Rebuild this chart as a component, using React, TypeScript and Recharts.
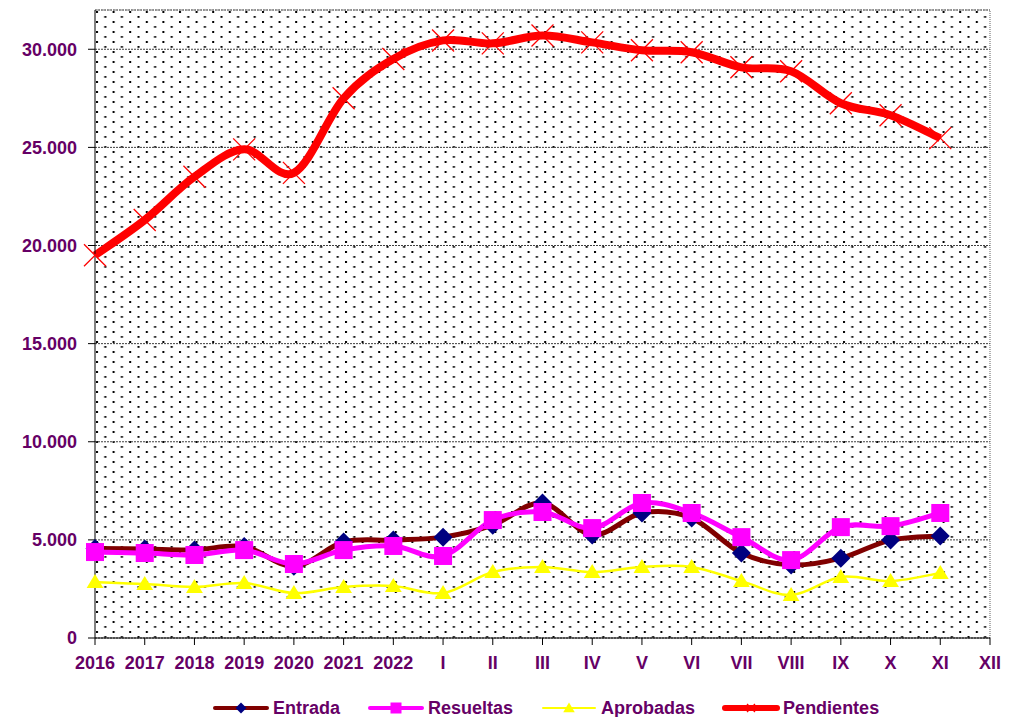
import {
  LineChart,
  Line,
  XAxis,
  YAxis,
  CartesianGrid,
  Legend,
  ReferenceLine,
} from 'recharts';

const categories = ['2016', '2017', '2018', '2019', '2020', '2021', '2022', 'I', 'II', 'III', 'IV', 'V', 'VI', 'VII', 'VIII', 'IX', 'X', 'XI', 'XII'];
const entrada = [4560, 4530, 4490, 4660, 3650, 4890, 4990, 5140, 5750, 6880, 5250, 6370, 6110, 4330, 3720, 4070, 4990, 5200, null];
const resueltas = [4380, 4330, 4230, 4480, 3770, 4480, 4690, 4180, 6010, 6420, 5600, 6880, 6370, 5140, 3970, 5650, 5700, 6370, null];
const aprobadas = [2850, 2750, 2600, 2800, 2290, 2600, 2650, 2290, 3360, 3620, 3360, 3620, 3620, 2900, 2190, 3110, 2900, 3310, null];
const pendientes = [19500, 21300, 23500, 24900, 23700, 27500, 29500, 30450, 30300, 30700, 30350, 29950, 29850, 29080, 28880, 27250, 26640, 25470, null];
const yTicks = [0, 5000, 10000, 15000, 20000, 25000, 30000];

const data = categories.map((c, i) => ({
  name: c,
  entrada: entrada[i],
  resueltas: resueltas[i],
  aprobadas: aprobadas[i],
  pendientes: pendientes[i],
}));

const PURPLE = '#660066';
const FONT = 'Arial, "Liberation Sans", sans-serif';

// suavizado tipo Excel (Catmull-Rom -> bezier)
const excelSmooth = (context: any) => {
  let pts: number[][] = [];
  return {
    areaStart() {},
    areaEnd() {},
    lineStart() {
      pts = [];
    },
    point(x: number, y: number) {
      pts.push([+x, +y]);
    },
    lineEnd() {
      const n = pts.length;
      if (!n) return;
      context.moveTo(pts[0][0], pts[0][1]);
      for (let i = 0; i < n - 1; i++) {
        const p0 = pts[Math.max(0, i - 1)];
        const p1 = pts[i];
        const p2 = pts[i + 1];
        const p3 = pts[Math.min(n - 1, i + 2)];
        context.bezierCurveTo(
          p1[0] + (p2[0] - p0[0]) / 6,
          p1[1] + (p2[1] - p0[1]) / 6,
          p2[0] - (p3[0] - p1[0]) / 6,
          p2[1] - (p3[1] - p1[1]) / 6,
          p2[0],
          p2[1]
        );
      }
    },
  };
};

const formatMiles = (v: number) => String(v).replace(/\B(?=(\d{3})+(?!\d))/g, '.');

const diamond = (cx: number, cy: number, r: number, key?: any) => (
  <path key={key} d={`M${cx},${cy - r}L${cx + r},${cy}L${cx},${cy + r}L${cx - r},${cy}Z`} fill='#000080' />
);
const square = (cx: number, cy: number, r: number, key?: any) => (
  <rect key={key} x={cx - r} y={cy - r} width={r * 2} height={r * 2} fill='#FF00FF' />
);
const triangle = (cx: number, cy: number, r: number, key?: any) => (
  <path key={key} d={`M${cx},${cy - r}L${cx + r * 1.05},${cy + r * 0.75}L${cx - r * 1.05},${cy + r * 0.75}Z`} fill='#FFFF00' />
);
const cross = (cx: number, cy: number, r: number, key?: any) => (
  <path key={key} d={`M${cx - r},${cy - r}L${cx + r},${cy + r}M${cx - r},${cy + r}L${cx + r},${cy - r}`} stroke='#FF0000' strokeWidth={1.3} fill='none' />
);

const makeDot = (shape: typeof diamond, r: number) => (props: any) => {
  const { cx, cy, index } = props;
  if (cx == null || cy == null || props.value == null) return <g key={index} />;
  return shape(cx, cy, r, index);
};

const legendItems = [
  { label: 'Entrada', color: '#800000', width: 4, shape: diamond, r: 5.5 },
  { label: 'Resueltas', color: '#FF00FF', width: 4, shape: square, r: 5.5 },
  { label: 'Aprobadas', color: '#FFFF00', width: 2, shape: triangle, r: 5.5 },
  { label: 'Pendientes', color: '#FF0000', width: 6, shape: cross, r: 4 },
];

const renderLegend = () => (
  <div style={{ display: 'flex', height: 18, alignItems: 'center', fontFamily: FONT }}>
    {legendItems.map((it) => (
      <div key={it.label} style={{ display: 'flex', alignItems: 'center', marginRight: 27 }}>
        <svg width={58} height={16} style={{ marginRight: 3 }}>
          <line x1={3} y1={8} x2={55} y2={8} stroke={it.color} strokeWidth={it.width} strokeLinecap='round' />
          {it.shape(29, 8, it.r)}
        </svg>
        <span style={{ color: PURPLE, fontWeight: 700, fontSize: 18 }}>{it.label}</span>
      </div>
    ))}
  </div>
);

export default function App() {
  const tickStyle = { fill: PURPLE, fontSize: 18, fontWeight: 700, fontFamily: FONT };
  return (
    <div style={{ position: 'absolute', left: 0, top: 0, background: '#fff' }}>
      <LineChart width={1021} height={717} data={data} margin={{ top: 10, right: 31, left: 0, bottom: 0 }}>
        <defs>
          <pattern id='puntos' patternUnits='userSpaceOnUse' x={95} y={10} width={16.6} height={10}>
            <rect x={1} y={1} width={2} height={2} fill='#000' />
            <rect x={9.3} y={6} width={2} height={1.8} fill='#000' />
          </pattern>
        </defs>
        <CartesianGrid vertical={false} fill='url(#puntos)' stroke='#404040' strokeDasharray='2 1' />
        <XAxis
          dataKey='name'
          height={61}
          interval={0}
          tickSize={7}
          tickMargin={11}
          stroke='#000'
          tickLine={{ stroke: '#000' }}
          tick={tickStyle}
        />
        <YAxis
          width={95}
          domain={[0, 32000]}
          ticks={yTicks}
          tickSize={7}
          tickMargin={11}
          stroke='#000'
          tickFormatter={formatMiles}
          tick={tickStyle}
        />
        <ReferenceLine y={32000} stroke='#808080' strokeDasharray='1 1' />
        <ReferenceLine x='XII' stroke='#606060' strokeDasharray='1 1' />
        <Legend
          verticalAlign='bottom'
          content={renderLegend}
          wrapperStyle={{ left: 212, bottom: 0, width: 760 }}
        />
        <Line
          type={excelSmooth as any}
          dataKey='entrada'
          name='Entrada'
          stroke='#800000'
          strokeWidth={5}
          dot={makeDot(diamond, 9.5)}
          activeDot={false}
          isAnimationActive={false}
        />
        <Line
          type={excelSmooth as any}
          dataKey='resueltas'
          name='Resueltas'
          stroke='#FF00FF'
          strokeWidth={5}
          dot={makeDot(square, 9)}
          activeDot={false}
          isAnimationActive={false}
        />
        <Line
          type={excelSmooth as any}
          dataKey='aprobadas'
          name='Aprobadas'
          stroke='#FFFF00'
          strokeWidth={2.5}
          dot={makeDot(triangle, 8)}
          activeDot={false}
          isAnimationActive={false}
        />
        <Line
          type={excelSmooth as any}
          dataKey='pendientes'
          name='Pendientes'
          stroke='#FF0000'
          strokeWidth={8}
          dot={makeDot(cross, 11)}
          activeDot={false}
          isAnimationActive={false}
        />
      </LineChart>
    </div>
  );
}
